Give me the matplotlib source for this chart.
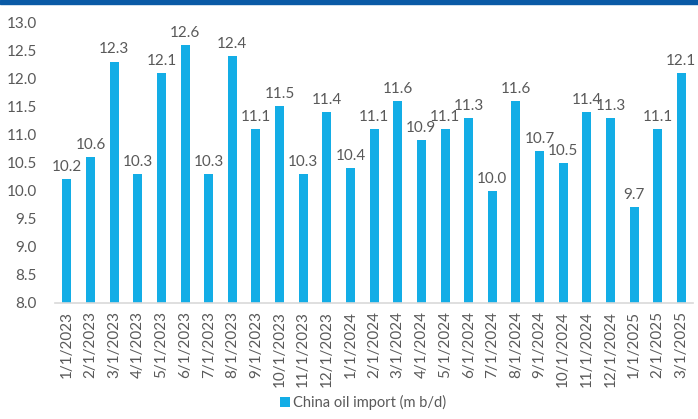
import matplotlib.pyplot as plt
from matplotlib.patches import Rectangle

# monthly China crude imports, million barrels per day
months = ["1/1/2023", "2/1/2023", "3/1/2023", "4/1/2023", "5/1/2023", "6/1/2023",
          "7/1/2023", "8/1/2023", "9/1/2023", "10/1/2023", "11/1/2023", "12/1/2023",
          "1/1/2024", "2/1/2024", "3/1/2024", "4/1/2024", "5/1/2024", "6/1/2024",
          "7/1/2024", "8/1/2024", "9/1/2024", "10/1/2024", "11/1/2024", "12/1/2024",
          "1/1/2025", "2/1/2025", "3/1/2025"]
imports = [10.2, 10.6, 12.3, 10.3, 12.1, 12.6, 10.3, 12.4, 11.1, 11.5, 10.3, 11.4,
           10.4, 11.1, 11.6, 10.9, 11.1, 11.3, 10.0, 11.6, 10.7, 10.5, 11.4, 11.3,
           9.7, 11.1, 12.1]
y_ticks = [8.0, 8.5, 9.0, 9.5, 10.0, 10.5, 11.0, 11.5, 12.0, 12.5, 13.0]

BAR_COLOR = "#13ade6"
TEXT_COLOR = "#595959"

plt.rcParams["font.family"] = ["Lato", "DejaVu Sans"]

fig = plt.figure(figsize=(6.98, 4.19), dpi=100)
ax = fig.add_axes([0.079, 0.277, 0.914, 0.67])

x = range(len(months))
bars = ax.bar(x, [v - 8.0 for v in imports], bottom=8.0, width=0.38,
              color=BAR_COLOR, label="China oil import (m b/d)")
for xi, v in zip(x, imports):
    ax.text(xi, v + 0.09, f"{v:.1f}", ha="center", va="bottom",
            fontsize=11, color=TEXT_COLOR)

ax.set_xlim(-0.5, len(months) - 0.5)
ax.set_ylim(8.0, 13.0)
ax.set_yticks(y_ticks)
ax.set_yticklabels([f"{t:.1f}" for t in y_ticks])
ax.set_xticks(list(x))
ax.set_xticklabels(months, rotation=90)
ax.tick_params(axis="both", length=0, colors=TEXT_COLOR, labelsize=11)
ax.tick_params(axis="y", pad=13)
ax.tick_params(axis="x", pad=6)

for side in ["top", "right", "left"]:
    ax.spines[side].set_visible(False)
ax.spines["bottom"].set_color("#d9d9d9")
ax.spines["bottom"].set_linewidth(1.2)

fig.legend(handles=[bars], loc="lower center", bbox_to_anchor=(0.52, -0.01),
           frameon=False, fontsize=10.5, handlelength=0.7, handleheight=0.7,
           handletextpad=0.2, labelcolor=TEXT_COLOR)

# dark band across the top edge
fig.patches.append(Rectangle((0, 0.99), 1, 0.01, transform=fig.transFigure,
                             color="#0a5aa6", zorder=5))

fig.savefig("out.png", dpi=100)
